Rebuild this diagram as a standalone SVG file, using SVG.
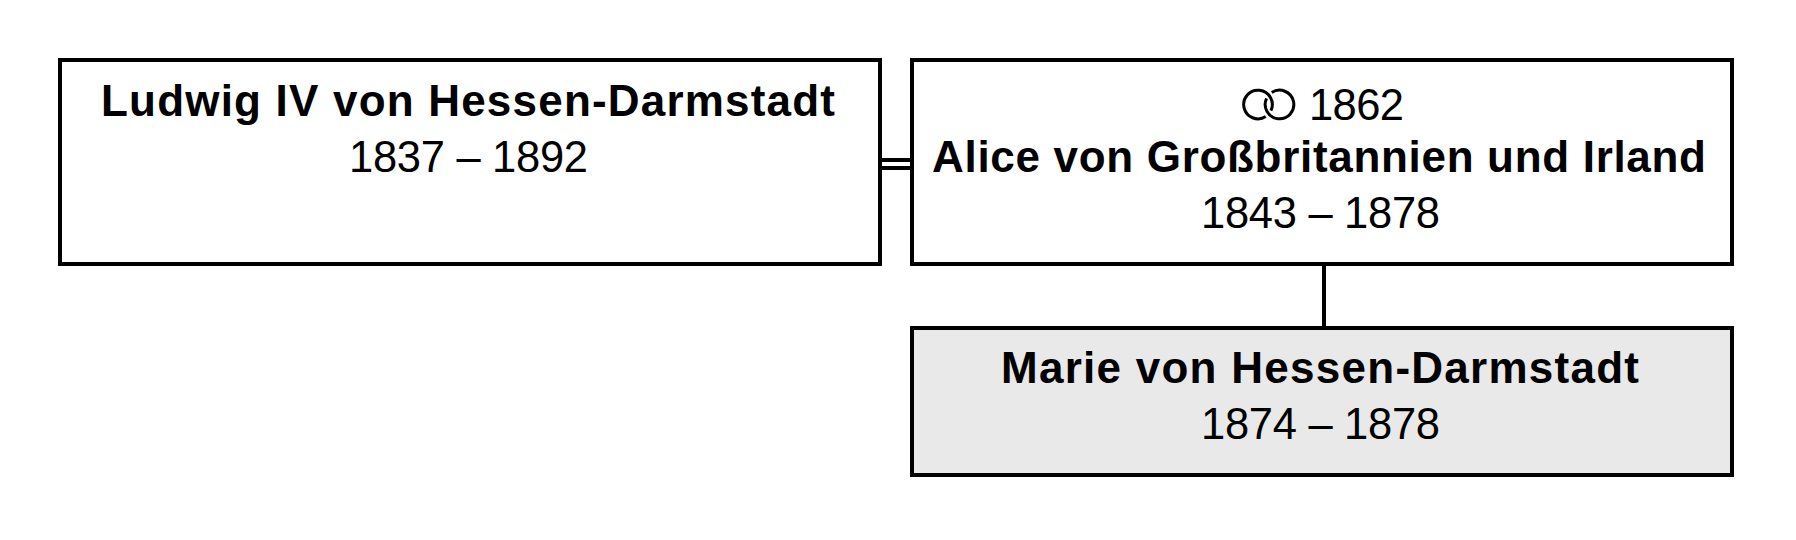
<svg xmlns="http://www.w3.org/2000/svg" width="1796" height="540" viewBox="0 0 1796 540">
<style>
.box{fill:#fff;stroke:#000;stroke-width:4}
.grey{fill:#e9e9e9}
.line{fill:none;stroke:#000;stroke-width:4}
.ring{fill:none;stroke:#000;stroke-width:3}
text{font-family:"Liberation Sans",Arial,sans-serif;font-size:43.5px;fill:#000;text-anchor:middle}
.b{font-weight:bold;font-size:44px}
</style>
<rect width="1796" height="540" fill="#fff"/>
<g id="connectors">
<path class="line" d="M880 160H912M880 168H912"/>
<path class="line" d="M1324 264V328"/>
</g>
<g id="ludwig">
<rect class="box" x="60" y="60" width="820" height="204"/>
<text class="b" x="468" y="116" textLength="734">Ludwig IV von Hessen-Darmstadt</text>
<text x="468.5" y="172" textLength="239">1837 – 1892</text>
</g>
<g id="alice">
<rect class="box" x="912" y="60" width="820" height="204"/>
<g id="marriage-symbol"><title>⚭</title>
<path class="ring" d="M1265.73 116.53A14.3 14.3 0 1 1 1270.93 110.61"/>
<path class="ring" d="M1271.77 92.47A14.3 14.3 0 1 1 1266.57 98.39"/>
</g>
<text x="1309" y="120" textLength="95" style="text-anchor:start">1862</text>
<text class="b" x="1319" y="172" textLength="774">Alice von Großbritannien und Irland</text>
<text x="1320.5" y="228" textLength="239">1843 – 1878</text>
</g>
<g id="marie">
<rect class="box grey" x="912" y="328" width="820" height="147"/>
<text class="b" x="1320" y="383" textLength="638">Marie von Hessen-Darmstadt</text>
<text x="1320.5" y="439" textLength="239">1874 – 1878</text>
</g>
</svg>
